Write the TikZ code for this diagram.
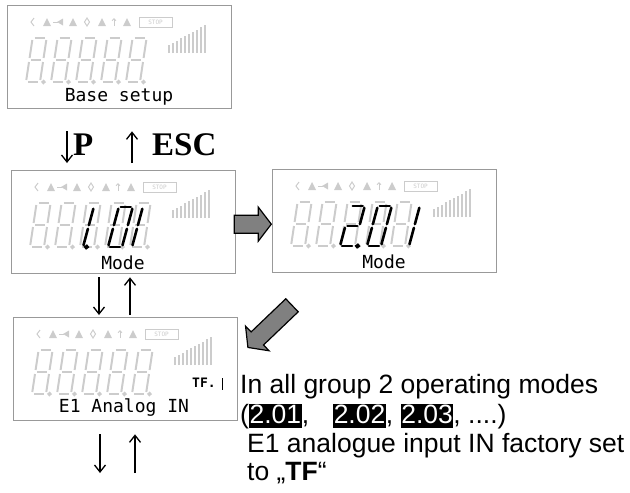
\documentclass[tikz,border=0pt]{standalone}
\usepackage{fontspec}
\usetikzlibrary{arrows.meta}

\newfontfamily\notefont{Liberation Sans}
\newfontfamily\keyfont{Liberation Serif}
\newfontfamily\lcdfont{DejaVu Sans Mono}

\definecolor{lcdgray}{gray}{0.8}
\definecolor{framegray}{gray}{0.6}
\definecolor{arrowgray}{gray}{0.5}

% segments of one digit, origin at its lower left corner
\def\sega{(2,-44) -- (12,-44)}
\def\segb{(14,-42) -- (14,-24)}
\def\segc{(14,-20) -- (14,-2)}
\def\segd{(2,0) -- (12,0)}
\def\sege{(0,-20) -- (0,-2)}
\def\segf{(0,-42) -- (0,-24)}
\def\segg{(2,-22) -- (12,-22)}
\def\segp{(17.5,0) circle (1.1)}

\newcommand\lcdsegs[4]{%
  \begin{scope}[shift={(#1,#2)}]
    \foreach \s in {#3}{\draw[#4] \csname seg\s\endcsname;}
  \end{scope}}

\newcommand\lcdface[1]{%
  \begin{scope}[shift={(#1.north west)}]
    \draw[icon] (27,13) -- (24,17) -- (27,21);
    \foreach \x in {40,66,95,120}{\fill[lcdgray] (\x-4,21) -- (\x+4,21) -- (\x,13) -- cycle;}
    \fill[lcdgray] (50,17) -- (56,13.5) -- (56,20.5) -- cycle;
    \draw[icon] (46,17) -- (51,17);
    \draw[icon] (80,13) -- (77.5,17) -- (80,21) -- (82.5,17) -- cycle;
    \draw[icon,-{Straight Barb[length=2pt,width=4pt]}] (107,21) -- (107,13);
    \draw[icon] (132,12) rectangle (165,22);
    \node[text=lcdgray,font=\lcdfont\fontsize{6}{6}\selectfont] (#1-stop) at (148.5,17) {STOP};
    \foreach \k in {0,...,4}{\lcdsegs{19+25*\k}{77}{a,b,c,d,e,f,g,p}{dimseg}}
    \foreach \i in {0,...,9}{\draw[lcdgray,line width=1.2pt] (162+4*\i,48) -- (162+4*\i,40-2.2*\i);}
  \end{scope}}

\newcommand\fatarrow[3]{%
  \begin{scope}[shift={(#1)},rotate=#2]
    \draw[fatarr] (0,-9) -- ({#3-13},-9) -- ({#3-13},-17) -- (#3,0)
      -- ({#3-13},17) -- ({#3-13},9) -- (0,9) -- cycle;
  \end{scope}}

\newcommand\hl[1]{{\setlength\fboxsep{0.6pt}\colorbox{black}{\rule[-4pt]{0pt}{19pt}\textcolor{white}{#1}}}}

\tikzset{
  lcdbox/.style={draw=framegray, line width=1.3pt, anchor=north west,
    minimum width=224pt, minimum height=103pt, inner sep=0pt},
  lcdlabel/.style={font=\lcdfont\fontsize{18}{18}\selectfont, inner sep=0pt},
  icon/.style={draw=lcdgray, line width=1pt},
  dimseg/.style={draw=lcdgray, line width=2pt, xslant=.15},
  litseg/.style={draw=black, line width=2.6pt, line cap=round, xslant=.27, yscale=.91},
  flow/.style={line width=1.3pt, -{Straight Barb[length=7pt,width=11pt]}},
  fatarr/.style={fill=arrowgray, draw=black, line width=1.2pt},
}

\begin{document}
\begin{tikzpicture}[x=1pt,y=-1pt]
  \useasboundingbox (0,0) rectangle (630,493);

  \node[lcdbox] (box1) at (7,5) {};
  \node[lcdbox] (box2) at (11,170) {};
  \node[lcdbox] (box3) at (272,169) {};
  \node[lcdbox] (box4) at (13,317) {};

  \lcdface{box1}
  \lcdface{box2}
  \lcdface{box3}
  \lcdface{box4}

  % shown values
  \begin{scope}[shift={(box2.north west)}]
    \lcdsegs{58}{77}{b,c,p}{litseg}
    \lcdsegs{97}{77}{a,b,c,d,e,f}{litseg}
    \lcdsegs{121}{77}{e,f}{litseg}
  \end{scope}
  \begin{scope}[shift={(box3.north west)}]
    \lcdsegs{68}{77}{a,b,g,e,d,p}{litseg}
    \lcdsegs{95}{77}{a,b,c,d,e,f}{litseg}
    \lcdsegs{123}{77}{b,c}{litseg}
  \end{scope}

  \node[lcdlabel] (lab1) at ([shift={(112,92)}]box1.north west) {Base setup};
  \node[lcdlabel] (lab2) at ([shift={(112,93)}]box2.north west) {Mode};
  \node[lcdlabel] (lab3) at ([shift={(112,93)}]box3.north west) {Mode};
  \node[lcdlabel] (lab4) at ([shift={(111,91)}]box4.north west) {E1 Analog IN};
  \node[font=\lcdfont\bfseries\fontsize{13}{13}\selectfont, anchor=base west, inner sep=0pt]
    (tf) at ([shift={(179,70)}]box4.north west) {TF.};
  \draw[line width=1pt] ([shift={(209,61)}]box4.north west) -- ([shift={(209,73)}]box4.north west);

  % keys
  \coordinate (xP) at (67,0);
  \coordinate (xESC) at (132,0);
  \draw[flow, shorten <=22pt, shorten >=7pt] (box1.south -| xP) -- (box2.north -| xP);
  \draw[flow, shorten <=7pt, shorten >=22pt] (box2.north -| xESC) -- (box1.south -| xESC);
  \begin{scope}[every node/.style={anchor=base west, inner sep=0pt,
      font=\keyfont\bfseries\fontsize{33}{36}\selectfont}]
    \node (P) at (73,155) {P};
    \node (ESC) at (152,155) {ESC};
  \end{scope}

  \coordinate (xdown) at (99,0);
  \coordinate (xup) at (130,0);
  \draw[flow, shorten <=3pt, shorten >=2pt] (box2.south -| xdown) -- (box4.north -| xdown);
  \draw[flow, shorten <=2pt, shorten >=3pt] (box4.north -| xup) -- (box2.south -| xup);

  \coordinate (down) at (100,473);
  \coordinate (up) at (135,473);
  \draw[flow, shorten <=13pt] (box4.south -| down) -- (down);
  \draw[flow, shorten >=13pt] (up) -- (box4.south -| up);

  % block arrows
  \coordinate (a1) at ([shift={(-2,2)}]box2.east);
  \coordinate (a2) at ([shift={(20,32)}]box3.south west);
  \fatarrow{a1}{0}{37}
  \fatarrow{a2}{223.7}{61}

  % note
  \begin{scope}[every node/.style={anchor=base west, inner sep=0pt,
      font=\notefont\fontsize{26.5}{29}\selectfont}]
    \node (l1) at (240,393) {In all group 2 operating modes};
    \node (l2) at (240,423) {(\hl{2.01},\hspace{24pt}\hl{2.02}, \hl{2.03}, ....)};
    \node (l3) at (247,452) {E1 analogue input IN factory set};
    \node (l4) at (247,480) {to „\textbf{TF}“};
  \end{scope}
\end{tikzpicture}
\end{document}
